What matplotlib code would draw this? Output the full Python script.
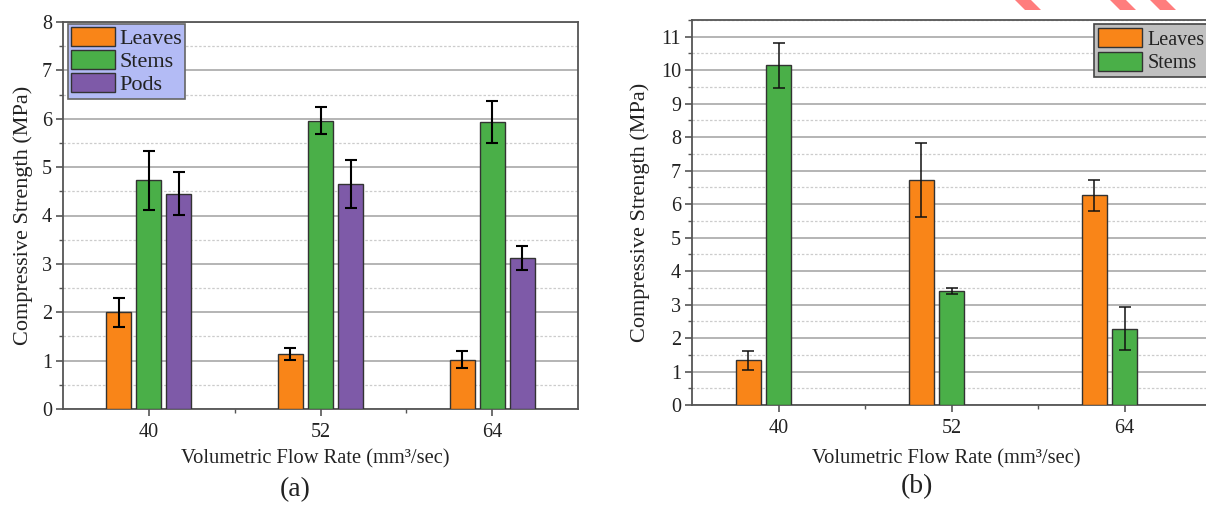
import matplotlib
matplotlib.use("Agg")
import matplotlib.pyplot as plt
import numpy as np
from matplotlib.patches import Patch, Polygon
from matplotlib.ticker import MultipleLocator, FixedLocator

plt.rcParams["font.family"] = ["Liberation Serif", "DejaVu Serif"]

# data
flow_rates = ["40", "52", "64"]

a_leaves = [2.00, 1.14, 1.02]
a_leaves_err = [0.30, 0.12, 0.17]
a_stems = [4.73, 5.96, 5.93]
a_stems_err = [0.61, 0.28, 0.43]
a_pods = [4.45, 4.65, 3.12]
a_pods_err = [0.44, 0.50, 0.25]

b_leaves = [1.33, 6.73, 6.26]
b_leaves_err = [0.27, 1.10, 0.46]
b_stems = [10.15, 3.40, 2.28]
b_stems_err = [0.67, 0.09, 0.64]

c_leaves = "#F98518"
c_stems = "#4AAF48"
c_pods = "#7E5AA8"
txt = "#222222"
spine_c = "#555555"

W, H = 1206, 505
fig = plt.figure(figsize=(W / 100, H / 100), dpi=100)


def style_axes(ax, ymax, ystep):
    ax.set_xlim(-0.5, 2.5)
    ax.set_ylim(0, ymax)
    ax.yaxis.set_major_locator(MultipleLocator(ystep))
    ax.yaxis.set_minor_locator(MultipleLocator(ystep / 2))
    ax.xaxis.set_major_locator(FixedLocator([0, 1, 2]))
    ax.xaxis.set_minor_locator(FixedLocator([0.5, 1.5]))
    ax.set_xticklabels(flow_rates)
    ax.grid(True, which="major", axis="y", color="#a8a8a8", lw=1.2, zorder=0)
    ax.grid(True, which="minor", axis="y", color="#cccccc", lw=0.9, ls=(0, (2, 1.5)), zorder=0)
    ax.set_axisbelow(True)
    ax.tick_params(axis="both", which="major", direction="out", length=5, width=1.2,
                   color=spine_c, labelsize=14.5, labelcolor=txt)
    ax.tick_params(axis="both", which="minor", direction="out", length=3, width=1.0, color=spine_c)
    ax.tick_params(axis="x", which="major", pad=5)
    ax.tick_params(axis="y", which="major", pad=3)
    for s in ax.spines.values():
        s.set_color(spine_c)
        s.set_linewidth(1.3)
    ax.set_ylabel("Compressive Strength (MPa)", fontsize=16, color=txt)
    ax.set_xlabel("Volumetric Flow Rate (mm³/sec)", fontsize=14.8, color=txt)


x = np.arange(len(flow_rates))
bw = 0.145
off = 0.175
bar_kw = dict(edgecolor="#333333", linewidth=1.0, zorder=3)

# panel (a)
ax1 = fig.add_axes([63 / W, 1 - 409 / H, 515 / W, 387 / H])
err_a = dict(ecolor="black", elinewidth=1.5, capsize=4, capthick=1.5)
ax1.bar(x - off, a_leaves, bw, yerr=a_leaves_err, color=c_leaves, error_kw=err_a, **bar_kw)
ax1.bar(x, a_stems, bw, yerr=a_stems_err, color=c_stems, error_kw=err_a, **bar_kw)
ax1.bar(x + off, a_pods, bw, yerr=a_pods_err, color=c_pods, error_kw=err_a, **bar_kw)
style_axes(ax1, 8, 1)
ax1.yaxis.set_label_coords(-0.058, 0.5)
ax1.xaxis.set_label_coords(0.49, -0.105)

handles_a = [Patch(facecolor=c, edgecolor="#333333", lw=1.0) for c in (c_leaves, c_stems, c_pods)]
leg = ax1.legend(handles_a, ["Leaves", "Stems", "Pods"], loc="upper left",
                 bbox_to_anchor=(68 / W, 1 - 24 / H), bbox_transform=fig.transFigure,
                 fontsize=16, handlelength=1.95, handleheight=0.9, labelspacing=0.05,
                 handletextpad=0.2, borderpad=0.15, borderaxespad=0, fancybox=False,
                 framealpha=1)
leg.get_frame().set_facecolor("#B3BBF5")
leg.get_frame().set_edgecolor("#666666")
leg.get_frame().set_linewidth(1.2)
for t in leg.get_texts():
    t.set_color(txt)

# panel (b)
ax2 = fig.add_axes([692 / W, 1 - 405 / H, 519 / W, 385 / H])
err_b = dict(ecolor="#111111", elinewidth=1.1, capsize=4, capthick=1.1)
ax2.bar(x - off, b_leaves, bw, yerr=b_leaves_err, color=c_leaves, error_kw=err_b, **bar_kw)
ax2.bar(x, b_stems, bw, yerr=b_stems_err, color=c_stems, error_kw=err_b, **bar_kw)
style_axes(ax2, 11.5, 1)
ax2.yaxis.set_label_coords(-0.081, 0.5)
ax2.xaxis.set_label_coords(0.49, -0.114)

handles_b = [Patch(facecolor=c, edgecolor="#333333", lw=1.0) for c in (c_leaves, c_stems)]
leg2 = ax2.legend(handles_b, ["Leaves", "Stems"], loc="upper left",
                  bbox_to_anchor=(1094 / W, 1 - 24 / H), bbox_transform=fig.transFigure,
                  fontsize=14.5, handlelength=2.2, handleheight=1.1, labelspacing=0.1,
                  handletextpad=0.25, borderpad=0.2, borderaxespad=0, fancybox=False,
                  framealpha=1)
leg2.get_frame().set_facecolor("#C0C0C0")
leg2.get_frame().set_edgecolor("#444444")
leg2.get_frame().set_linewidth(1.2)
for t in leg2.get_texts():
    t.set_color(txt)

# panel captions
fig.text(295 / W, 1 - 490 / H, "(a)", ha="center", va="center", fontsize=20, color=txt)
fig.text(917 / W, 1 - 487 / H, "(b)", ha="center", va="center", fontsize=20, color=txt)

# red stripes cut off at the top right
for x0 in (1015, 1110, 1150):
    pts = [(x0, 0), (x0 + 16, 0), (x0 + 26, 10), (x0 + 10, 10)]
    fig.patches.append(Polygon([(px / W, 1 - py / H) for px, py in pts], closed=True,
                               transform=fig.transFigure, facecolor="#FF6F6F",
                               edgecolor="none", alpha=0.9))

fig.savefig("out.png", dpi=100)
